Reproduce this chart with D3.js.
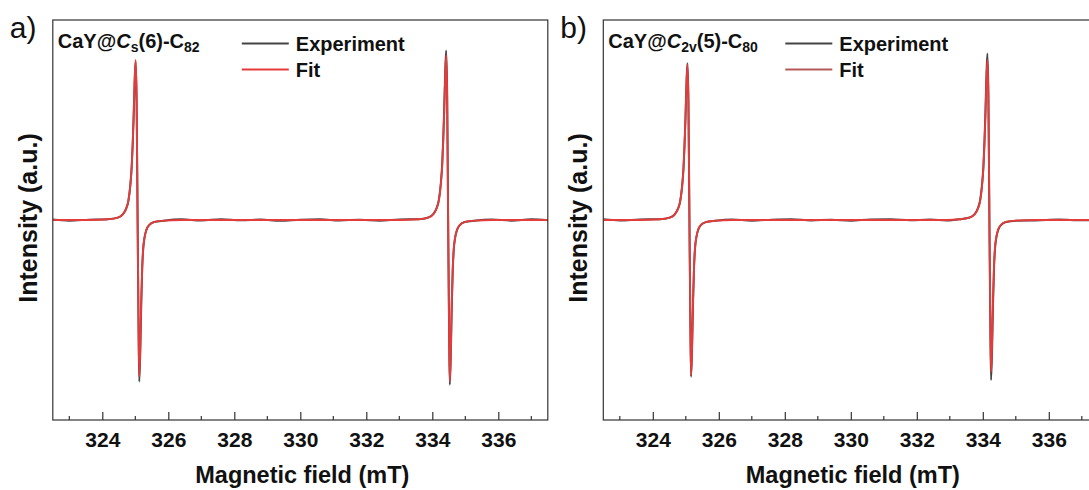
<!DOCTYPE html>
<html>
<head>
<meta charset="utf-8">
<script src="https://cdn.jsdelivr.net/npm/d3@7"></script>
<style>
  body { margin: 0; background: #fff; }
  svg { display: block; font-family: "Liberation Sans", Arial, sans-serif; }
</style>
</head>
<body>
<svg id="chart" width="1089" height="490"></svg>
<script>
// ---- datos (campo en mT, intensidad en u.a.) ----
const xTicks = [324, 326, 328, 330, 332, 334, 336];
const xMinorTicks = [323, 325, 327, 329, 331, 333, 335, 337];

// panel a) CaY@Cs(6)-C82
const fieldA = [
  322.5, 323.0, 323.6,
  324.17, 324.47, 324.62, 324.72, 324.79, 324.85, 324.89, 324.92, 324.95, 324.98, 325.01, 325.04,
  325.07, 325.10, 325.12, 325.15, 325.18, 325.21, 325.24, 325.28, 325.34, 325.43, 325.57, 325.87,
  326.4, 327.0, 327.6, 328.2, 328.8, 329.4, 330.0, 330.6, 331.2, 331.8, 332.4, 333.0,
  333.58, 333.88, 334.03, 334.13, 334.20, 334.26, 334.30, 334.33, 334.36, 334.39, 334.42, 334.45,
  334.48, 334.51, 334.53, 334.56, 334.59, 334.62, 334.65, 334.69, 334.75, 334.84, 334.98, 335.28,
  335.8, 336.4, 337.0, 337.5
];
const expA = [
  0.003, -0.004, 0.002,
  0.005, 0.015, 0.035, 0.07, 0.12, 0.22, 0.33, 0.465, 0.645, 0.86, 0.99, 0.74,
  0, -0.71, -1.01, -0.83, -0.525, -0.30, -0.18, -0.11, -0.06, -0.03, -0.013, -0.004,
  0.004, -0.003, 0.005, -0.002, 0.003, -0.005, 0.002, 0.004, -0.003, 0.002, -0.004, 0.003,
  0.005, 0.016, 0.037, 0.074, 0.127, 0.233, 0.35, 0.498, 0.69, 0.92, 1.06, 0.795,
  0, -0.72, -1.03, -0.845, -0.535, -0.31, -0.185, -0.113, -0.062, -0.031, -0.013, -0.004,
  0.003, -0.004, 0.004, -0.002
];
const fitA = [
  0, 0, 0,
  0.005, 0.015, 0.035, 0.07, 0.12, 0.22, 0.33, 0.47, 0.65, 0.87, 1.0, 0.75,
  0, -0.69, -0.98, -0.80, -0.51, -0.29, -0.176, -0.108, -0.059, -0.029, -0.013, -0.004,
  0, 0, 0, 0, 0, 0, 0, 0, 0, 0, 0, 0,
  0.005, 0.015, 0.036, 0.072, 0.124, 0.227, 0.34, 0.484, 0.67, 0.896, 1.03, 0.773,
  0, -0.707, -1.01, -0.828, -0.525, -0.303, -0.182, -0.111, -0.061, -0.03, -0.013, -0.004,
  0, 0, 0, 0
];

// panel b) CaY@C2v(5)-C80
const fieldB = [
  322.5, 323.0, 323.6,
  324.21, 324.51, 324.66, 324.76, 324.83, 324.89, 324.93, 324.96, 324.99, 325.02, 325.05, 325.08,
  325.11, 325.14, 325.16, 325.19, 325.22, 325.25, 325.28, 325.32, 325.38, 325.47, 325.61, 325.91,
  326.4, 327.0, 327.6, 328.2, 328.8, 329.4, 330.0, 330.6, 331.2, 331.8, 332.4, 332.9,
  333.30, 333.60, 333.75, 333.85, 333.92, 333.98, 334.02, 334.05, 334.08, 334.11, 334.14, 334.17,
  334.20, 334.23, 334.25, 334.28, 334.31, 334.34, 334.37, 334.41, 334.47, 334.56, 334.70, 335.00,
  335.6, 336.3, 337.0, 337.5
];
const expB = [
  0.004, -0.003, 0.003,
  0.005, 0.015, 0.034, 0.069, 0.118, 0.216, 0.323, 0.46, 0.637, 0.853, 0.98, 0.735,
  0, -0.686, -0.98, -0.80, -0.51, -0.294, -0.176, -0.108, -0.059, -0.029, -0.013, -0.004,
  0.003, -0.004, 0.002, 0.005, -0.003, 0.002, -0.004, 0.003, 0.004, -0.002, 0.003, -0.003,
  0.005, 0.016, 0.036, 0.073, 0.125, 0.229, 0.343, 0.489, 0.676, 0.905, 1.04, 0.78,
  0, -0.70, -1.0, -0.82, -0.52, -0.30, -0.18, -0.11, -0.06, -0.03, -0.013, -0.004,
  -0.003, 0.003, -0.002, 0.002
];
const fitB = [
  0, 0, 0,
  0.005, 0.015, 0.034, 0.068, 0.116, 0.213, 0.32, 0.456, 0.63, 0.844, 0.97, 0.728,
  0, -0.68, -0.97, -0.795, -0.504, -0.29, -0.175, -0.107, -0.058, -0.029, -0.013, -0.004,
  0, 0, 0, 0, 0, 0, 0, 0, 0, 0, 0, 0,
  0.005, 0.015, 0.035, 0.07, 0.12, 0.22, 0.33, 0.47, 0.65, 0.87, 1.0, 0.75,
  0, -0.665, -0.95, -0.78, -0.494, -0.285, -0.171, -0.105, -0.057, -0.029, -0.012, -0.004,
  0, 0, 0, 0
];

const seriesNames = ["Experiment", "Fit"];

// ---- dibujo ----
const svg = d3.select("#chart");
const plotW = 495, plotH = 400;

const x = d3.scaleLinear().domain([322.5, 337.5]);
const y = d3.scaleLinear().domain([-1.25, 1.25]).range([plotH, 0]);

function drawPanel(left, top, letter, titleParts, field, expVals, fitVals, legendX, fitLegendColor, id) {
    const xs = x.copy().range([0, plotW]);
    const g = svg.append("g").attr("transform", `translate(${left},${top})`);

    g.append("clipPath").attr("id", "clip" + id)
        .append("rect").attr("width", plotW).attr("height", plotH);

    const line = d3.line()
        .x(d => xs(d[0]))
        .y(d => y(d[1]))
        .curve(d3.curveMonotoneX);

    const plot = g.append("g").attr("clip-path", `url(#clip${id})`);
    plot.append("path")
        .datum(field.map((f, i) => [f, expVals[i]]))
        .attr("d", line)
        .attr("fill", "none")
        .attr("stroke", "#444")
        .attr("stroke-width", 2);
    plot.append("path")
        .datum(field.map((f, i) => [f, fitVals[i]]))
        .attr("d", line)
        .attr("fill", "none")
        .attr("stroke", "#e53b3b")
        .attr("stroke-width", 1.9);

    // marco
    g.append("rect")
        .attr("width", plotW).attr("height", plotH)
        .attr("fill", "none").attr("stroke", "#333").attr("stroke-width", 1.2);

    // eje inferior con marcas hacia dentro
    const axis = g.append("g").attr("transform", `translate(0,${plotH})`)
        .call(d3.axisBottom(xs).tickValues(xTicks).tickSize(-8).tickPadding(12));
    axis.select(".domain").remove();
    axis.selectAll("line").attr("stroke", "#333").attr("stroke-width", 1.2);
    axis.selectAll("text")
        .attr("fill", "#111")
        .style("font-size", "21px")
        .style("font-weight", "bold");
    g.append("g").selectAll("line")
        .data(xMinorTicks)
        .enter().append("line")
        .attr("x1", d => xs(d)).attr("x2", d => xs(d))
        .attr("y1", plotH).attr("y2", plotH - 4)
        .attr("stroke", "#333").attr("stroke-width", 1.2);

    // título del eje x
    g.append("text")
        .attr("x", plotW / 2 + 2).attr("y", plotH + 63)
        .attr("text-anchor", "middle")
        .style("font-size", "23.5px").style("font-weight", "bold")
        .attr("fill", "#111")
        .text("Magnetic field (mT)");

    // título del eje y
    g.append("text")
        .attr("transform", `translate(-16,${plotH / 2 - 2}) rotate(-90)`)
        .attr("text-anchor", "middle")
        .style("font-size", "25px").style("font-weight", "bold")
        .attr("fill", "#111")
        .text("Intensity (a.u.)");

    // letra del panel
    svg.append("text")
        .attr("x", left - 43).attr("y", top + 18)
        .style("font-size", "30px")
        .attr("fill", "#111")
        .text(letter);

    // nombre del compuesto
    const t = g.append("text")
        .attr("x", 5).attr("y", 28)
        .style("font-size", "20px").style("font-weight", "bold")
        .attr("fill", "#111");
    titleParts.forEach(p => {
        const ts = t.append("tspan").text(p.text);
        if (p.italic) ts.style("font-style", "italic");
        if (p.sub) ts.style("font-size", "14px").attr("dy", 4);
        if (p.up) ts.attr("dy", -4);
    });

    // leyenda
    const colors = ["#444", fitLegendColor];
    seriesNames.forEach((name, i) => {
        const ly = 23.5 + i * 26;
        g.append("line")
            .attr("x1", legendX).attr("x2", legendX + 47)
            .attr("y1", ly).attr("y2", ly)
            .attr("stroke", colors[i]).attr("stroke-width", 1.8);
        g.append("text")
            .attr("x", legendX + 54).attr("y", ly + 7)
            .style("font-size", "20px").style("font-weight", "bold")
            .attr("fill", "#111")
            .text(name);
    });
}

drawPanel(52.8, 20, "a)", [
    { text: "CaY@" }, { text: "C", italic: true }, { text: "s", sub: true },
    { text: "(6)-C", up: true }, { text: "82", sub: true }
], fieldA, expA, fitA, 189, "#e53b3b", "a");

drawPanel(603.3, 20, "b)", [
    { text: "CaY@" }, { text: "C", italic: true }, { text: "2v", sub: true },
    { text: "(5)-C", up: true }, { text: "80", sub: true }
], fieldB, expB, fitB, 182, "#b45a5a", "b");
</script>
</body>
</html>
